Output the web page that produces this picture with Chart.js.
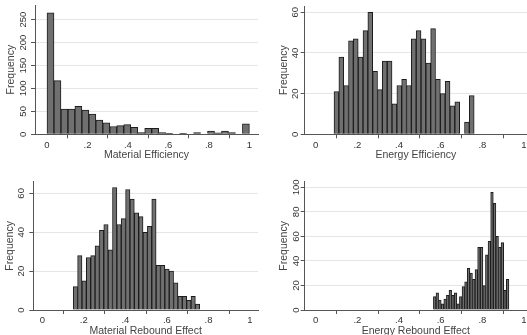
<!DOCTYPE html>
<html lang="en">
<head>
<meta charset="UTF-8">
<title>Efficiency and Rebound Histograms</title>
<script src="https://cdn.jsdelivr.net/npm/chart.js"></script>
<style>
  html, body { margin: 0; padding: 0; background: #fff; overflow: hidden; }
  body { width: 527px; height: 335px; position: relative; }
  canvas { position: absolute; }
</style>
</head>
<body>
<canvas id="matEff"></canvas>
<canvas id="enEff"></canvas>
<canvas id="matReb"></canvas>
<canvas id="enReb"></canvas>
<script>
// Histogram counts (29 bins each)
const materialEfficiency = [265, 117, 55, 55, 61, 53, 44, 31, 25, 17, 19, 21, 15, 4, 13, 13, 4, 2, 0, 2, 0, 4, 0, 7, 3, 7, 4, 0, 23];
const energyEfficiency = [21, 38, 24, 46, 47, 38, 51, 60, 31, 22, 36, 36, 15, 24, 27, 24, 47, 51, 47, 35, 52, 27, 20, 26, 14, 16, 0, 6, 19];
const materialRebound = [12, 28, 15, 27, 28, 33, 41, 44, 31, 63, 44, 47, 62, 57, 50, 48, 40, 43, 57, 23, 23, 21, 20, 14, 7, 7, 5, 7, 3];
const energyRebound = [11, 14, 8, 5, 9, 12, 16, 12, 14, 5, 11, 19, 23, 34, 30, 25, 33, 51, 51, 20, 45, 56, 96, 87, 60, 51, 55, 16, 25];

// Where each histogram's first bin starts and how wide the bins are
const binStarts = [0, 0.088, 0.149, 0.565];
const binWidths = [0.0345, 0.0232, 0.021, 0.0125];

// Tick labels
const xTicks = [0, 0.2, 0.4, 0.6, 0.8, 1];
const xTickLabels = ['0', '.2', '.4', '.6', '.8', '1'];
const yTicksMatEff = [0, 50, 100, 150, 200, 250];
const yTicksEnEff = [0, 20, 40, 60];
const yTicksMatReb = [0, 20, 40, 60];
const yTicksEnReb = [0, 20, 40, 60, 80, 100];

const FONT = '"Liberation Sans", Arial, Helvetica, sans-serif';

// rotated y tick labels (Stata draws them vertical)
const verticalYLabels = {
    id: 'verticalYLabels',
    afterDraw(chart, args, opts) {
        const scale = chart.scales.y;
        const ctx = chart.ctx;
        ctx.save();
        ctx.fillStyle = '#333';
        ctx.font = '9.5px ' + FONT;
        ctx.textAlign = 'center';
        ctx.textBaseline = 'middle';
        scale.ticks.forEach(t => {
            ctx.save();
            ctx.translate(opts.x, scale.getPixelForValue(t.value));
            ctx.rotate(-Math.PI / 2);
            ctx.fillText(String(t.value), 0, 0);
            ctx.restore();
        });
        ctx.restore();
    }
};

// panel placement: canvas box, plot area [left, top, right, bottom] inside it
const panels = [
    { id: 'matEff', left: 0, top: 0, w: 264, h: 172, area: [35, 5, 258, 134.3],
      xMin: -0.0593, xMax: 1.043, yMax: 282, yTicks: yTicksMatEff, counts: materialEfficiency,
      title: 'Material Efficiency', titleY: 155.5, freqX: 11, labelX: 23.3 },
    { id: 'enEff', left: 264, top: 0, w: 263, h: 172, area: [40.7, 6, 263, 134.3],
      xMin: -0.0528, xMax: 1.0144, yMax: 63.1, yTicks: yTicksEnEff, counts: energyEfficiency,
      title: 'Energy Efficiency', titleY: 155.5, freqX: 20, labelX: 31.7 },
    { id: 'matReb', left: 0, top: 168, w: 264, h: 175, area: [33.3, 13.7, 258, 142],
      xMin: -0.0433, xMax: 1.0385, yMax: 66, yTicks: yTicksMatReb, counts: materialRebound,
      title: 'Material Rebound Effect', titleY: 163.3, freqX: 10, labelX: 21.7 },
    { id: 'enReb', left: 264, top: 168, w: 263, h: 175, area: [40.7, 13.7, 263, 142],
      xMin: -0.0528, xMax: 1.0144, yMax: 104.6, yTicks: yTicksEnReb, counts: energyRebound,
      title: 'Energy Rebound Effect', titleY: 163.3, freqX: 20, labelX: 32.3 }
];

panels.forEach((p, k) => {
    const canvas = document.getElementById(p.id);
    canvas.width = p.w;
    canvas.height = p.h;
    canvas.style.left = p.left + 'px';
    canvas.style.top = p.top + 'px';

    const points = p.counts.map((c, i) => ({ x: binStarts[k] + (i + 0.5) * binWidths[k], y: c }));

    new Chart(canvas.getContext('2d'), {
        type: 'bar',
        data: {
            datasets: [{
                data: points,
                backgroundColor: '#707070',
                borderColor: '#1c1c1c',
                borderWidth: 1,
                barPercentage: 1,
                categoryPercentage: 1
            }]
        },
        options: {
            responsive: false,
            animation: false,
            devicePixelRatio: 1,
            layout: { padding: { left: 0, top: p.area[1], right: p.w - p.area[2], bottom: 0 } },
            plugins: {
                legend: { display: false },
                tooltip: { enabled: false },
                verticalYLabels: { x: p.labelX }
            },
            scales: {
                x: {
                    type: 'linear',
                    offset: false,
                    min: p.xMin,
                    max: p.xMax,
                    afterBuildTicks: s => { s.ticks = xTicks.map(v => ({ value: v })); },
                    afterFit: s => { s.height = p.h - p.area[3]; s.paddingLeft = 0; s.paddingRight = 0; },
                    ticks: {
                        color: '#333',
                        font: { family: FONT, size: 9.5 },
                        padding: 1,
                        maxRotation: 0,
                        callback: (v) => xTickLabels[xTicks.indexOf(v)]
                    },
                    grid: { drawOnChartArea: false, drawTicks: true, tickLength: 4, tickColor: '#555' },
                    border: { color: '#555', width: 1 },
                    title: {
                        display: true,
                        text: p.title,
                        color: '#444',
                        font: { family: FONT, size: 10.5 },
                        padding: { top: 0, bottom: p.h - p.titleY - 6.3 }
                    }
                },
                y: {
                    min: 0,
                    max: p.yMax,
                    afterBuildTicks: s => { s.ticks = p.yTicks.map(v => ({ value: v })); },
                    afterFit: s => { s.width = p.area[0]; s.paddingTop = 0; s.paddingBottom = 0; },
                    ticks: { display: false },
                    grid: { color: '#e6e6e6', drawTicks: true, tickLength: 4, tickColor: '#555' },
                    border: { color: '#555', width: 1 },
                    title: {
                        display: true,
                        text: 'Frequency',
                        color: '#444',
                        font: { family: FONT, size: 10.5 },
                        padding: { top: p.freqX - 6.3, bottom: 0 }
                    }
                }
            }
        },
        plugins: [verticalYLabels]
    });
});
</script>
</body>
</html>
